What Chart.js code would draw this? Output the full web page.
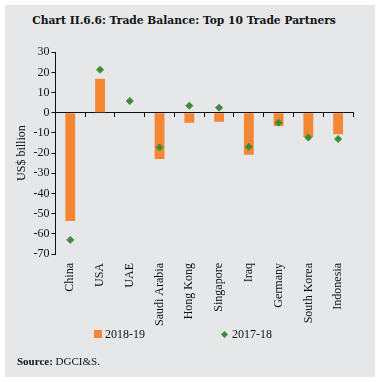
<!DOCTYPE html>
<html>
<head>
<meta charset="utf-8">
<script src="https://cdn.jsdelivr.net/npm/chart.js@4.4.1/dist/chart.umd.min.js"></script>
<style>
  body { margin: 0; background: #fff; }
  #panel { position: absolute; left: 5px; top: 5px; width: 370px; height: 372px; background: #e6e7e8; }
  #title { position: absolute; left: -6px; top: 9px; width: 370px; text-align: center;
    font: bold 10.7px "DejaVu Serif", serif; color: #111; }
  #source { position: absolute; left: 12px; top: 350px; font: 11px "Liberation Serif", serif; color: #111; }
  #wrap { position: absolute; left: 0; top: 38px; width: 370px; height: 292px; }
  #legend { position: absolute; top: 322px; left: 0; width: 370px; font: 12px "Liberation Serif", serif; color: #111; }
  .item { position: absolute; top: 0; white-space: nowrap; }
  .sq { display: inline-block; width: 8px; height: 8px; background: #f58634; margin-right: 3px; vertical-align: -0px; }
  .dm { display: inline-block; width: 5px; height: 5px; background: #3f8a3a; transform: rotate(45deg); margin-right: 5px; margin-left: 1px; vertical-align: 1px; }
</style>
</head>
<body>
<div id="panel">
  <div id="title">Chart II.6.6: Trade Balance: Top 10 Trade Partners</div>
  <div id="wrap"><canvas id="chart"></canvas></div>
  <div id="legend"></div>
  <div id="source"><b>Source:</b> DGCI&amp;S.</div>
</div>
<script>
const partners = ["China", "USA", "UAE", "Saudi Arabia", "Hong Kong", "Singapore", "Iraq", "Germany", "South Korea", "Indonesia"];
const balance201819 = [-53.6, 16.9, 0, -22.9, -5.0, -4.5, -20.8, -6.6, -12.0, -10.6];
const balance201718 = [-63.0, 21.3, 5.8, -17.2, 3.5, 2.5, -16.9, -4.9, -12.3, -13.0];
const yTicks = { min: -70, max: 30, step: 10 };

const serif = "'Liberation Serif', serif";
const barColor = '#f58634';
const dotColor = '#3f8a3a';

const chart = new Chart(document.getElementById("chart"), {
  data: {
    labels: partners,
    datasets: [
      {
        type: 'bar',
        label: '2018-19',
        data: balance201819,
        backgroundColor: barColor,
        barPercentage: 0.33,
        categoryPercentage: 1,
        order: 2
      },
      {
        type: 'line',
        label: '2017-18',
        data: balance201718,
        showLine: false,
        pointStyle: 'rectRot',
        pointRadius: 3.5,
        pointBackgroundColor: dotColor,
        pointBorderColor: dotColor,
        order: 1
      }
    ]
  },
  options: {
    responsive: true,
    maintainAspectRatio: false,
    animation: false,
    layout: { padding: { left: 8, right: 22, top: 6, bottom: 0 } },
    plugins: {
      legend: { display: false },
      tooltip: { enabled: false }
    },
    scales: {
      x: {
        offset: true,
        grid: { display: false, drawTicks: false },
        border: { display: false },
        ticks: { font: { family: serif, size: 12 }, color: '#111', minRotation: 90, maxRotation: 90, padding: 9, autoSkip: false }
      },
      x2: {
        type: 'category',
        position: { y: 0 },
        offset: true,
        grid: { offset: true, drawOnChartArea: false, drawTicks: true, tickLength: 4, color: '#111' },
        border: { display: true, color: '#111', width: 1 },
        ticks: { display: false }
      },
      y: {
        min: yTicks.min,
        max: yTicks.max,
        ticks: { stepSize: yTicks.step, autoSkip: false, font: { family: serif, size: 12 }, color: '#111', padding: 2 },
        grid: { drawOnChartArea: false, drawTicks: true, tickLength: 4, color: '#111' },
        border: { display: true, color: '#111', width: 1 },
        title: { display: true, text: 'US$ billion', font: { family: serif, size: 12 }, color: '#111', padding: 2 }
      }
    }
  }
});

// legend, drawn as HTML so the two items can sit far apart like the original
const legend = document.getElementById('legend');
legend.innerHTML =
  '<span class="item" style="left:89px"><span class="sq"></span>' + chart.data.datasets[0].label + '</span>' +
  '<span class="item" style="left:216px"><span class="dm"></span>' + chart.data.datasets[1].label + '</span>';
</script>
</body>
</html>
